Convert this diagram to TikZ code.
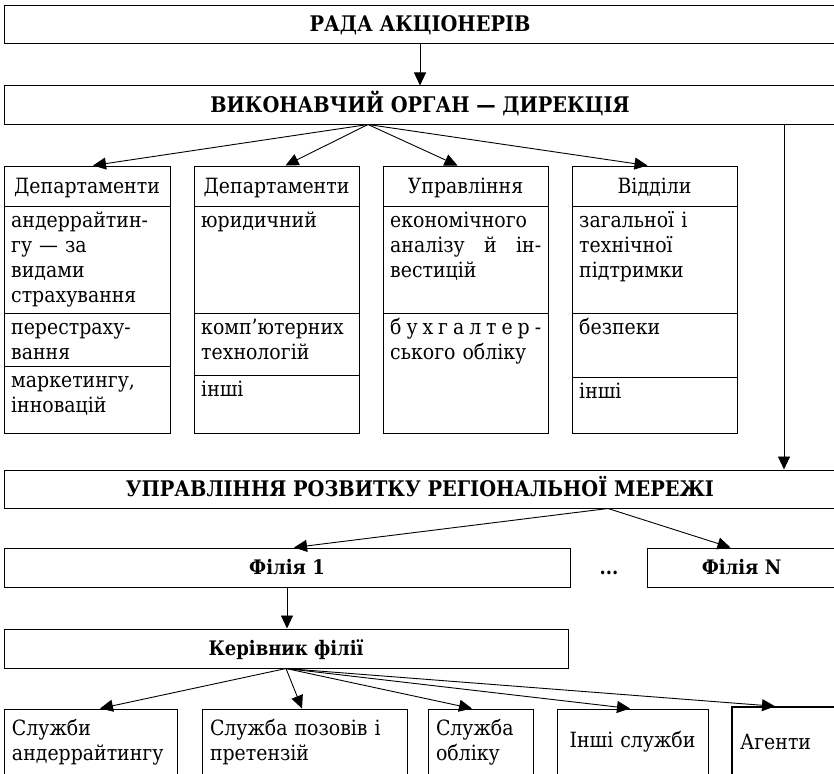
\documentclass[tikz,border=0pt]{standalone}
\usepackage{fontspec}
\setmainfont{DejaVu Serif}[FakeStretch=0.9]
\usetikzlibrary{arrows.meta}

\newcommand{\cellfont}{\fontsize{21}{25}\selectfont}
\newcommand{\capsfont}{\fontsize{21.5}{24}\selectfont\bfseries}
\newcommand{\subfont}{\fontsize{20}{23}\selectfont\bfseries}

\begin{document}
\begin{tikzpicture}[x=1pt, y=-1pt,
        wideblock/.style={rectangle, draw, line width=1pt, minimum width=832pt, minimum height=38pt, inner sep=0pt, font=\capsfont, text height=15pt, text depth=0pt},
        branchbox/.style={rectangle, draw, line width=1pt, minimum height=39pt, inner sep=0pt, font=\subfont, text height=14pt, text depth=0pt},
        colhead/.style={rectangle, draw, line width=1pt, minimum height=40pt, inner sep=0pt, font=\cellfont, text height=16pt, text depth=2pt},
        colbody/.style={rectangle, draw, line width=1pt, minimum height=227pt, inner sep=0pt},
        cell/.style={anchor=north west, inner sep=0pt, align=left, font=\cellfont},
        unitbox/.style={rectangle, draw, line width=1pt, minimum height=66pt, inner xsep=8pt, inner ysep=0pt, align=left, font=\cellfont},
        divider/.style={line width=1pt},
        arrow/.style={-{Triangle[length=13pt, width=12pt]}, line width=0.9pt}
    ]
    \useasboundingbox[fill=white] (0,0) rectangle (834,773);

    % Top level
    \node[wideblock] (rada) at (420,24.5) {РАДА АКЦІОНЕРІВ};
    \node[wideblock] (dyr) at (420,105) {ВИКОНАВЧИЙ ОРГАН — ДИРЕКЦІЯ};

    % Columns
    \node[colhead, minimum width=166pt] (dep1) at (87,186) {Департаменти};
    \node[colbody, minimum width=166pt] (dep1b) at (87,319.5) {};
    \draw[divider] (4,313) -- (170,313);
    \draw[divider] (4,366) -- (170,366);
    \node[cell, text width=152pt] (und) at (11,209.5) {\strut андеррайтин-\\гу — за\\видами\\страхування};
    \node[cell, text width=152pt] (reins) at (11,316.5) {\strut перестраху-\\вання};
    \node[cell, text width=152pt] (mark) at (11,369.5) {\strut маркетингу,\\інновацій};

    \node[colhead, minimum width=165pt] (dep2) at (276.5,186) {Департаменти};
    \node[colbody, minimum width=165pt] (dep2b) at (276.5,319.5) {};
    \draw[divider] (194,313) -- (359,313);
    \draw[divider] (194,375) -- (359,375);
    \node[cell, text width=151pt] (law) at (201,209.5) {\strut юридичний};
    \node[cell, text width=151pt] (comp) at (201,316.5) {\strut комп’ютерних\\технологій};
    \node[cell, text width=151pt] (oth2) at (201,378.5) {\strut інші};

    \node[colhead, minimum width=165pt] (upr3) at (465.5,186) {Управління};
    \node[colbody, minimum width=165pt] (upr3b) at (465.5,319.5) {};
    \draw[divider] (383,313) -- (548,313);
    \node[cell, text width=151pt] (econ) at (390,209.5) {\strut економічного\\аналізу\hfill й\hfill ін-\\вестицій};
    \node[cell, text width=151pt] (acc) at (390,316.5) {\strut б\hfill у\hfill х\hfill г\hfill а\hfill л\hfill т\hfill е\hfill р\hfill -\\ського обліку};

    \node[colhead, minimum width=165pt] (vid4) at (654.5,186) {Відділи};
    \node[colbody, minimum width=165pt] (vid4b) at (654.5,319.5) {};
    \draw[divider] (572,313) -- (737,313);
    \draw[divider] (572,377) -- (737,377);
    \node[cell, text width=151pt] (gen) at (579,209.5) {\strut загальної і\\технічної\\підтримки};
    \node[cell, text width=151pt] (sec) at (579,316.5) {\strut безпеки};
    \node[cell, text width=151pt] (oth4) at (579,380.5) {\strut інші};

    % Regional network
    \node[wideblock] (upr) at (420,489) {УПРАВЛІННЯ РОЗВИТКУ РЕГІОНАЛЬНОЇ МЕРЕЖІ};
    \node[branchbox, minimum width=566pt] (fil1) at (287,567.5) {Філія 1};
    \node[font=\subfont, anchor=base] (dots) at (609,574.5) {...};
    \node[branchbox, minimum width=189pt] (filN) at (741.5,567.5) {Філія N};
    \node[branchbox, minimum width=564pt] (ker) at (286,648.5) {Керівник філії};

    % Services
    \node[unitbox, text width=157pt] (und1) at (90.5,742) {Служби\\андеррайтингу};
    \node[unitbox, text width=189pt] (claim) at (304.5,742) {Служба позовів і\\претензій};
    \node[unitbox, text width=89pt] (book) at (480.5,742) {Служба\\обліку};
    \node[unitbox, text width=135pt, align=center] (other) at (632.5,742) {Інші служби};
    \node[unitbox, text width=92pt, minimum height=70pt, line width=1.5pt] (agent) at (786,742) {Агенти};

    % Arrows
    \draw[arrow] (rada) -- (dyr);
    \coordinate (dfan) at ([xshift=-52pt]dyr.south);
    \draw[arrow] (dfan) -- ([xshift=6pt]dep1.north);
    \draw[arrow] (dfan) -- ([xshift=9pt]dep2.north);
    \draw[arrow] (dfan) -- ([xshift=-8pt]upr3.north);
    \draw[arrow] (dfan) -- ([xshift=-7pt]vid4.north);
    \draw[arrow] ([xshift=364pt]dyr.south) -- ([xshift=364pt]upr.north);
    \coordinate (ufan) at ([xshift=188pt]upr.south);
    \draw[arrow] (ufan) -- ([xshift=7pt]fil1.north);
    \draw[arrow] (ufan) -- ([xshift=-11pt]filN.north);
    \draw[arrow] (fil1.south) -- (fil1.south |- ker.north);
    \draw[arrow] (ker.south) -- ([xshift=9.5pt]und1.north);
    \draw[arrow] (ker.south) -- ([xshift=-2.5pt]claim.north);
    \draw[arrow] (ker.south) -- ([xshift=-8.5pt]book.north);
    \draw[arrow] (ker.south) -- ([xshift=-2.5pt]other.north);
    \draw[arrow] (ker.south) -- ([xshift=-11pt]agent.north);
\end{tikzpicture}
\end{document}
